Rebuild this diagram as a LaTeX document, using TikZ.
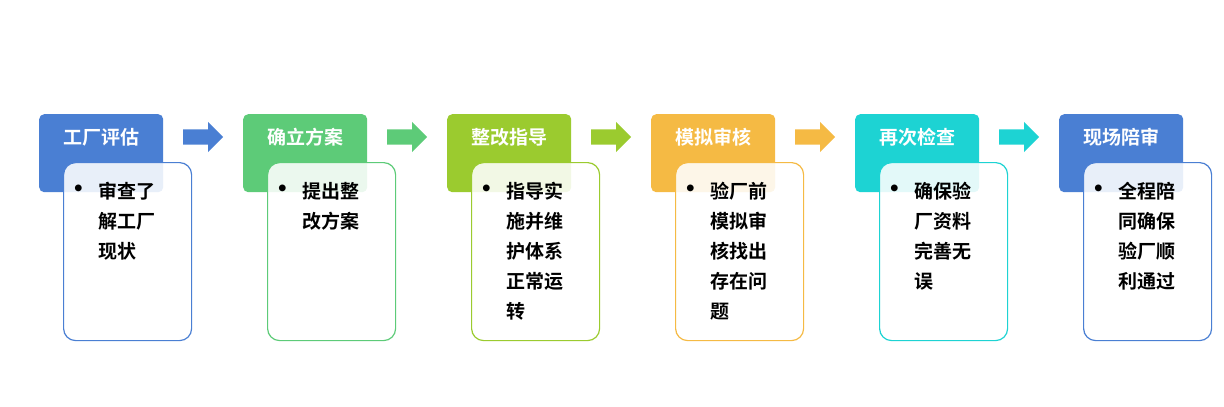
\documentclass[tikz,border=0pt]{standalone}
\usepackage{fontspec}
\newfontfamily\cjk{Noto Sans CJK SC}
\newfontfamily\cjkb{Noto Sans CJK SC Bold}
\usetikzlibrary{shapes.arrows}
\definecolor{cA}{HTML}{4A7FD3}
\definecolor{cB}{HTML}{5DCB78}
\definecolor{cC}{HTML}{9BCB2F}
\definecolor{cD}{HTML}{F5BA44}
\definecolor{cE}{HTML}{1DD3D3}
\definecolor{cF}{HTML}{4A7FD3}
\begin{document}
\begin{tikzpicture}[x=1pt,y=-1pt,
  head/.style={fill=#1, draw=none, rounded corners=5pt, minimum width=124pt,
    minimum height=78pt, text=white, font=\cjkb\fontsize{19}{22}\selectfont,
    anchor=north west, inner sep=0pt, text depth=34pt},
  body/.style={draw=#1, line width=1.2pt, fill=white, fill opacity=0.88,
    text opacity=1, rounded corners=12pt, minimum width=128pt, minimum height=178pt,
    anchor=north west, inner sep=0pt},
  txt/.style={anchor=north west, text width=80pt, align=left, inner sep=0pt,
    font=\cjkb\fontsize{19}{30}\selectfont},
  step arrow/.style={single arrow, fill=#1, draw=none, minimum height=40pt,
    minimum width=30pt, single arrow head extend=7.5pt, single arrow tip angle=90,
    inner sep=7.5pt, anchor=west}]
  \useasboundingbox (0,0) rectangle (1224,407);
  \def\cols{cA/工厂评估/{审查了\\解工厂\\现状},
    cB/确立方案/{提出整\\改方案},
    cC/整改指导/{指导实\\施并维\\护体系\\正常运\\转},
    cD/模拟审核/{验厂前\\模拟审\\核找出\\存在问\\题},
    cE/再次检查/{确保验\\厂资料\\完善无\\误},
    cF/现场陪审/{全程陪\\同确保\\验厂顺\\利通过}}
  \foreach \c/\h/\t [count=\i] in \cols {
    \pgfmathsetmacro\xo{39+204*(\i-1)}
    \node[head=\c] (h\i) at (\xo,114) {\h};
    \node[body=\c] (b\i) at (\xo+24,162) {};
    \node[txt] (t\i) at (\xo+59,182) {\llap{\scalebox{1.4}{•}\hspace{6pt}}\t};
  }
  \foreach \c [count=\i] in {cA,cB,cC,cD,cE} {
    \node[step arrow=\c] (a\i) at (\i*204-21,137) {};
  }
\end{tikzpicture}
\end{document}
